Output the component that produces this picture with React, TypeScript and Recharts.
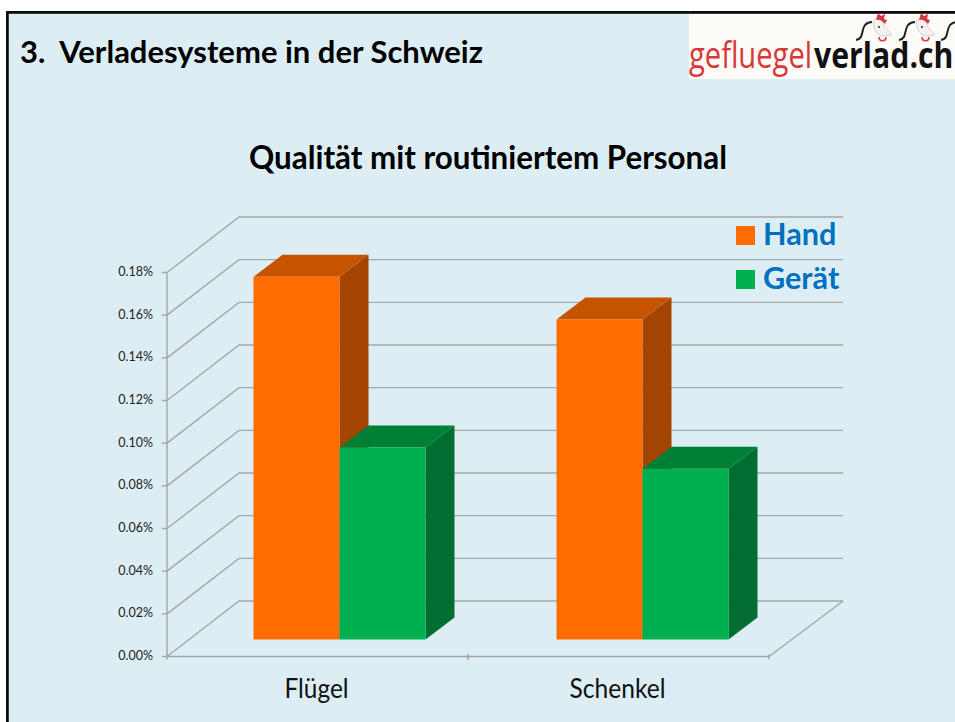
import React from 'react';
import { BarChart, Bar, XAxis, YAxis, CartesianGrid, Legend } from 'recharts';

const categories = ['Flügel', 'Schenkel'];
const handValues = [0.17, 0.15];
const geraetValues = [0.09, 0.08];
const yTicks = [0, 0.02, 0.04, 0.06, 0.08, 0.1, 0.12, 0.14, 0.16, 0.18];

const chartData = categories.map((name, i) => ({
  name,
  hand: handValues[i],
  geraet: geraetValues[i],
}));

const FONT = 'Lato, Carlito, sans-serif';
const GRID = '#A6A6A6';

// depth of the fake 3d room and of the boxes standing in it
const WALL_DX = 73;
const WALL_DY = -55.5;
const BOX_DX = 29;
const BOX_DY = -22;
const FLOOR_DX = 22;
const FLOOR_DY = -17;

const box3d = (topFill: string, sideFill: string) => (props: any) => {
  const { x, y, width, height, fill, index } = props;
  const bx = x + FLOOR_DX + index * 2;
  const by = y + FLOOR_DY;
  const r = bx + width;
  const b = by + height;
  return (
    <g>
      <polygon
        points={`${r},${by} ${r + BOX_DX},${by + BOX_DY} ${r + BOX_DX},${b + BOX_DY} ${r},${b}`}
        fill={sideFill}
      />
      <polygon
        points={`${bx},${by} ${bx + BOX_DX},${by + BOX_DY} ${r + BOX_DX},${by + BOX_DY} ${r},${by}`}
        fill={topFill}
      />
      <rect x={bx} y={by} width={width} height={height} fill={fill} />
    </g>
  );
};

const gridLine = (props: any) => {
  const { x1, y1, x2, index } = props;
  return (
    <g key={`wall-${index}`} fill="none" stroke={GRID} strokeWidth={1.4}>
      <polyline
        points={`${x1},${y1} ${x1 + WALL_DX - 1},${y1 + WALL_DY} ${x2 + WALL_DX + 1},${y1 + WALL_DY}`}
      />
      {index === 0 && <line x1={x2} y1={y1} x2={x2 + WALL_DX + 1} y2={y1 + WALL_DY} />}
    </g>
  );
};

const CategoryTick = (props: any) => {
  const { x, y, payload } = props;
  const half = 150.5;
  const len = payload.value === 'Flügel' ? 64 : 96;
  return (
    <g>
      <line x1={x - half} y1={y - 8} x2={x - half} y2={y - 3} stroke={GRID} strokeWidth={1.4} />
      <line x1={x + half} y1={y - 8} x2={x + half} y2={y - 3} stroke={GRID} strokeWidth={1.4} />
      <text
        x={x - 1}
        y={y + 35}
        textAnchor="middle"
        fontFamily={FONT}
        fontSize={26}
        fill="#111"
        textLength={len}
        lengthAdjust="spacingAndGlyphs"
      >
        {payload.value}
      </text>
    </g>
  );
};

const LegendBox = ({ payload }: any) => (
  <div>
    {(payload || []).map((entry: any) => (
      <div
        key={entry.value}
        style={{ display: 'flex', alignItems: 'center', height: 44 }}
      >
        <span style={{ width: 19, height: 19, background: entry.color, marginRight: 8 }} />
        <span
          style={{
            fontFamily: FONT,
            fontWeight: 700,
            fontSize: 30.6,
            color: '#0070C0',
            position: 'relative',
            top: -2.5,
          }}
        >
          {entry.value}
        </span>
      </div>
    ))}
  </div>
);

const Chicken = ({ x }: { x: number }) => (
  <g transform={`translate(${x},13)`}>
    <path d="M0,27 C8,26 5,17 9,12 C11,10 13,9 16,9" fill="none" stroke="#222" strokeWidth={2} />
    <path d="M17,8 C21,4 26,5 29,14 L36,22 L27,23 C22,23 18,18 17,8 Z" fill="#f4f1ee" stroke="#ccc" strokeWidth={0.8} />
    <path d="M20,7 L22,0 L25,3 L29,1 L28,6 L31,7 L29,11 C26,7 23,6 20,7 Z" fill="#D9373A" />
    <path d="M23,24 C23,29 30,29 30,24" fill="none" stroke="#D9373A" strokeWidth={1.5} />
    <circle cx={23} cy={14} r={1} fill="#222" />
  </g>
);

const Backdrop = () => (
  <svg width={955} height={722} style={{ position: 'absolute', left: 0, top: 0 }}>
    <rect x={0} y={0} width={955} height={722} fill="#fff" />
    <rect x={9} y={14} width={946} height={708} fill="#DCEEF4" />
    <rect x={6} y={11} width={949} height={2.8} fill="#0c0c0c" />
    <rect x={6} y={11} width={2.8} height={711} fill="#0c0c0c" />
    <rect x={689} y={14} width={266} height={65} fill="#FCFBF8" />
    <Chicken x={856} />
    <Chicken x={899} />
    <Chicken x={941} />
    <g fontFamily="'Open Sans', sans-serif" fontSize={36}>
      <text transform="translate(689,68) scale(0.81,1)" fill="#D9373A">gefluegel</text>
      <text transform="translate(814,68) scale(0.84,1)" fill="#111" fontWeight={700}>verlad.ch</text>
    </g>
    <text x={20} y={63} fontFamily={FONT} fontWeight={700} fontSize={30} fill="#000" textLength={463} lengthAdjust="spacingAndGlyphs" xmlSpace="preserve">
      3.  Verladesysteme in der Schweiz
    </text>
    <text x={249} y={169} fontFamily={FONT} fontWeight={700} fontSize={32} fill="#000" textLength={478} lengthAdjust="spacingAndGlyphs">
      Qualität mit routiniertem Personal
    </text>
  </svg>
);

export default function App() {
  return (
    <div style={{ position: 'absolute', left: 0, top: 0, width: 955, height: 722, overflow: 'hidden' }}>
      <Backdrop />
      <div style={{ position: 'absolute', left: 0, top: 0 }}>
        <BarChart
          width={955}
          height={722}
          data={chartData}
          margin={{ top: 272.5, right: 186, bottom: 25.5, left: 107 }}
          barCategoryGap={64.5}
          barGap={0}
        >
          <CartesianGrid vertical={false} horizontal={gridLine} />
          <XAxis
            dataKey="name"
            height={40}
            axisLine={{ stroke: GRID, strokeWidth: 1.4 }}
            tickLine={false}
            tick={<CategoryTick />}
            tickMargin={0}
            interval={0}
          />
          <YAxis
            width={60}
            domain={[0, 0.18]}
            ticks={yTicks}
            interval={0}
            tickFormatter={(v: number) => `${v.toFixed(2)}%`}
            axisLine={{ stroke: GRID, strokeWidth: 1.4 }}
            tickLine={{ stroke: GRID, strokeWidth: 1.4 }}
            tickSize={5}
            tickMargin={9}
            tick={{ fontFamily: FONT, fontSize: 12.5, fill: '#222', dy: -1 }}
          />
          <Legend
            layout="vertical"
            align="center"
            verticalAlign="middle"
            wrapperStyle={{ left: 736, top: 213.5, width: 120 }}
            itemSorter={(item: any) => (item.value === 'Hand' ? 0 : 1)}
            content={<LegendBox />}
          />
          <Bar dataKey="hand" name="Hand" fill="#FF6D00" shape={box3d('#C55300', '#A34500')} isAnimationActive={false} />
          <Bar dataKey="geraet" name="Gerät" fill="#00B050" shape={box3d('#008037', '#006E30')} isAnimationActive={false} />
        </BarChart>
      </div>
    </div>
  );
}
